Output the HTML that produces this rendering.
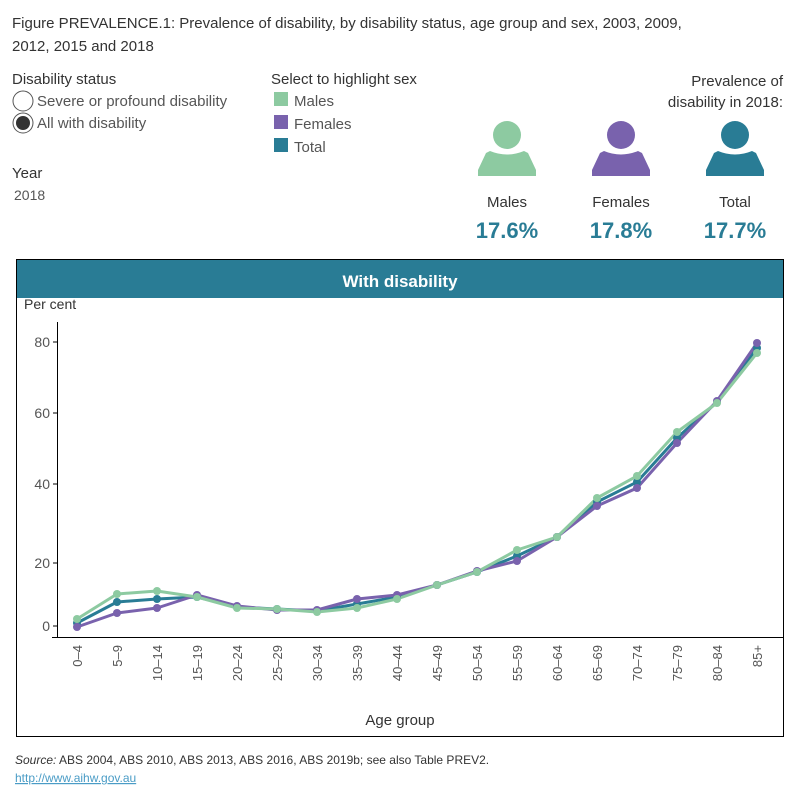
<!DOCTYPE html>
<html><head><meta charset="utf-8"><style>
body{margin:0;width:800px;height:800px;background:#fff;font-family:"Liberation Sans",sans-serif;overflow:hidden}
</style></head><body>
<svg width="800" height="800" xmlns="http://www.w3.org/2000/svg" font-family="Liberation Sans, sans-serif">
<text x="12" y="28" font-size="15" fill="#333">Figure PREVALENCE.1: Prevalence of disability, by disability status, age group and sex, 2003, 2009,</text>
<text x="12" y="51" font-size="15" fill="#333">2012, 2015 and 2018</text>
<text x="12" y="84" font-size="15" fill="#333">Disability status</text>
<circle cx="23" cy="101" r="10" fill="#fff" stroke="#555"/>
<text x="37" y="106" font-size="15" fill="#555">Severe or profound disability</text>
<circle cx="23" cy="123" r="10" fill="#fff" stroke="#555"/>
<circle cx="23" cy="123" r="7" fill="#333"/>
<text x="37" y="128" font-size="15" fill="#555">All with disability</text>
<text x="12" y="178" font-size="15" fill="#333">Year</text>
<text x="14" y="200" font-size="14" fill="#555">2018</text>
<text x="271" y="84" font-size="15" fill="#333">Select to highlight sex</text>
<rect x="274" y="92" width="14" height="14" fill="#8dcaa1"/><text x="294" y="106" font-size="15" fill="#555">Males</text>
<rect x="274" y="115" width="14" height="14" fill="#7962ad"/><text x="294" y="129" font-size="15" fill="#555">Females</text>
<rect x="274" y="138" width="14" height="14" fill="#297c95"/><text x="294" y="152" font-size="15" fill="#555">Total</text>
<text x="783" y="86" font-size="15" fill="#333" text-anchor="end">Prevalence of</text>
<text x="783" y="107" font-size="15" fill="#333" text-anchor="end">disability in 2018:</text>
<g id="p">
<circle cx="507" cy="135" r="14" fill="#8dcaa1"/>
<path d="M490 151 Q507 158 524 151 L528 153 L536 170 L536 176 L478 176 L478 170 L486 153 Z" fill="#8dcaa1"/>
</g>
<circle cx="621" cy="135" r="14" fill="#7962ad"/>
<path d="M604 151 Q621 158 638 151 L642 153 L650 170 L650 176 L592 176 L592 170 L600 153 Z" fill="#7962ad"/>
<circle cx="735" cy="135" r="14" fill="#297c95"/>
<path d="M718 151 Q735 158 752 151 L756 153 L764 170 L764 176 L706 176 L706 170 L714 153 Z" fill="#297c95"/>
<text x="507" y="207" font-size="15" fill="#333" text-anchor="middle">Males</text>
<text x="621" y="207" font-size="15" fill="#333" text-anchor="middle">Females</text>
<text x="735" y="207" font-size="15" fill="#333" text-anchor="middle">Total</text>
<g font-size="22" font-weight="bold" fill="#297c95" text-anchor="middle">
<text x="507" y="238">17.6%</text><text x="621" y="238">17.8%</text><text x="735" y="238">17.7%</text></g>
<rect x="16.5" y="259.5" width="767" height="477" fill="#fff" stroke="#000"/>
<rect x="17" y="260" width="766" height="38" fill="#297c95"/>
<text x="400" y="287" font-size="17" font-weight="bold" fill="#fff" text-anchor="middle">With disability</text>
<text x="24" y="309" font-size="14" fill="#333">Per cent</text>
<line x1="57.5" y1="322" x2="57.5" y2="637" stroke="#000"/>
<line x1="52" y1="637.5" x2="783" y2="637.5" stroke="#000"/>
<g font-size="14" fill="#555" text-anchor="end">
<text x="50" y="347">80</text><line x1="53" y1="342" x2="57" y2="342" stroke="#000"/>
<text x="50" y="418">60</text><line x1="53" y1="413" x2="57" y2="413" stroke="#000"/>
<text x="50" y="489">40</text><line x1="53" y1="484" x2="57" y2="484" stroke="#000"/>
<text x="50" y="568">20</text><line x1="53" y1="563" x2="57" y2="563" stroke="#000"/>
<text x="50" y="631">0</text><line x1="53" y1="626" x2="57" y2="626" stroke="#000"/>
</g>
<g font-size="13" fill="#555" text-anchor="end">
<text transform="translate(82,645) rotate(-90)">0–4</text>
<text transform="translate(122,645) rotate(-90)">5–9</text>
<text transform="translate(162,645) rotate(-90)">10–14</text>
<text transform="translate(202,645) rotate(-90)">15–19</text>
<text transform="translate(242,645) rotate(-90)">20–24</text>
<text transform="translate(282,645) rotate(-90)">25–29</text>
<text transform="translate(322,645) rotate(-90)">30–34</text>
<text transform="translate(362,645) rotate(-90)">35–39</text>
<text transform="translate(402,645) rotate(-90)">40–44</text>
<text transform="translate(442,645) rotate(-90)">45–49</text>
<text transform="translate(482,645) rotate(-90)">50–54</text>
<text transform="translate(522,645) rotate(-90)">55–59</text>
<text transform="translate(562,645) rotate(-90)">60–64</text>
<text transform="translate(602,645) rotate(-90)">65–69</text>
<text transform="translate(642,645) rotate(-90)">70–74</text>
<text transform="translate(682,645) rotate(-90)">75–79</text>
<text transform="translate(722,645) rotate(-90)">80–84</text>
<text transform="translate(762,645) rotate(-90)">85+</text>
</g>
<text x="400" y="725" font-size="15" fill="#333" text-anchor="middle">Age group</text>
<g fill="none" stroke-width="3" stroke-linejoin="round">
<polyline stroke="#297c95" points="77,623 117,602 157,599 197,597 237,607 277,609 317,611 357,604 397,597 437,585 477,572 517,556 557,537 597,502 637,482 677,438 717,402 757,348"/>
<polyline stroke="#7962ad" points="77,627 117,613 157,608 197,595 237,606 277,610 317,610 357,599 397,595 437,585 477,571 517,561 557,537 597,506 637,488 677,443 717,401 757,343"/>
<polyline stroke="#8dcaa1" points="77,619 117,594 157,591 197,597 237,608 277,609 317,612 357,608 397,599 437,585 477,572 517,550 557,537 597,498 637,476 677,432 717,403 757,353"/>
</g>
<g fill="#297c95"><circle cx="77" cy="623" r="4"/><circle cx="117" cy="602" r="4"/><circle cx="157" cy="599" r="4"/><circle cx="197" cy="597" r="4"/><circle cx="237" cy="607" r="4"/><circle cx="277" cy="609" r="4"/><circle cx="317" cy="611" r="4"/><circle cx="357" cy="604" r="4"/><circle cx="397" cy="597" r="4"/><circle cx="437" cy="585" r="4"/><circle cx="477" cy="572" r="4"/><circle cx="517" cy="556" r="4"/><circle cx="557" cy="537" r="4"/><circle cx="597" cy="502" r="4"/><circle cx="637" cy="482" r="4"/><circle cx="677" cy="438" r="4"/><circle cx="717" cy="402" r="4"/><circle cx="757" cy="348" r="4"/></g>
<g fill="#7962ad"><circle cx="77" cy="627" r="4"/><circle cx="117" cy="613" r="4"/><circle cx="157" cy="608" r="4"/><circle cx="197" cy="595" r="4"/><circle cx="237" cy="606" r="4"/><circle cx="277" cy="610" r="4"/><circle cx="317" cy="610" r="4"/><circle cx="357" cy="599" r="4"/><circle cx="397" cy="595" r="4"/><circle cx="437" cy="585" r="4"/><circle cx="477" cy="571" r="4"/><circle cx="517" cy="561" r="4"/><circle cx="557" cy="537" r="4"/><circle cx="597" cy="506" r="4"/><circle cx="637" cy="488" r="4"/><circle cx="677" cy="443" r="4"/><circle cx="717" cy="401" r="4"/><circle cx="757" cy="343" r="4"/></g>
<g fill="#8dcaa1"><circle cx="77" cy="619" r="4"/><circle cx="117" cy="594" r="4"/><circle cx="157" cy="591" r="4"/><circle cx="197" cy="597" r="4"/><circle cx="237" cy="608" r="4"/><circle cx="277" cy="609" r="4"/><circle cx="317" cy="612" r="4"/><circle cx="357" cy="608" r="4"/><circle cx="397" cy="599" r="4"/><circle cx="437" cy="585" r="4"/><circle cx="477" cy="572" r="4"/><circle cx="517" cy="550" r="4"/><circle cx="557" cy="537" r="4"/><circle cx="597" cy="498" r="4"/><circle cx="637" cy="476" r="4"/><circle cx="677" cy="432" r="4"/><circle cx="717" cy="403" r="4"/><circle cx="757" cy="353" r="4"/></g>
<text x="15" y="764" font-size="12" fill="#333"><tspan font-style="italic">Source:</tspan> ABS 2004, ABS 2010, ABS 2013, ABS 2016, ABS 2019b; see also Table PREV2.</text>
<text x="15" y="782" font-size="12" fill="#4a9cc6" text-decoration="underline">http://www.aihw.gov.au</text>
</svg>
</body></html>
